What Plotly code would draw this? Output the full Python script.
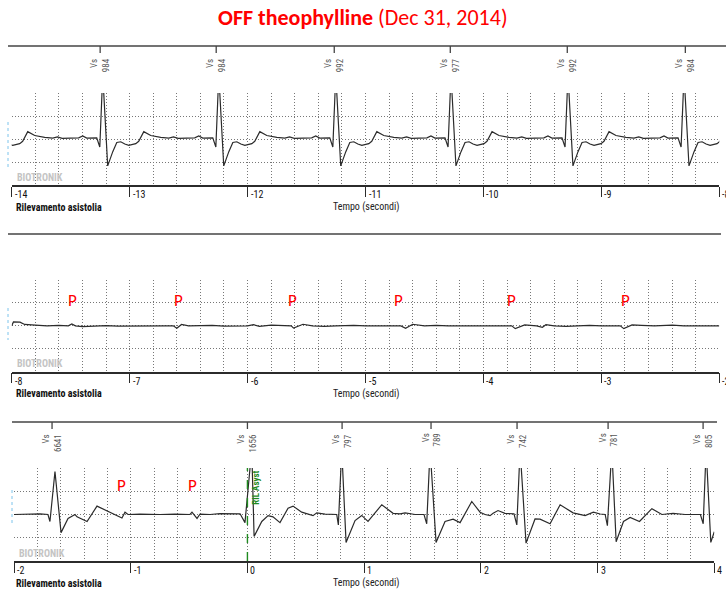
import plotly.graph_objects as go

W, H = 726, 592

# ---------------- text ----------------
title_bold = "OFF theophylline"
title_rest = "(Dec 31, 2014)"
brand = "BIOTRONIK"
strip_caption = "Rilevamento asistolia"
x_title = "Tempo (secondi)"
asyst_label = "RIL Asyst"

# ---------------- strip 1 : -14 .. -8 s ----------------
s1_ticks = [-14, -13, -12, -11, -10, -9, -8]
s1_beat_times = [-14.212, -13.228, -12.244, -11.252, -10.275, -9.283, -8.299]
s1_vs_times = [-13.25, -12.266, -11.265, -10.281, -9.289, -8.288]
s1_vs_labels = ["984", "984", "992", "977", "992", "984"]
s1_beat_offsets = [-0.204, -0.170, -0.136, -0.051, -0.025, 0.0, 0.042, 0.085, 0.119,
                   0.153, 0.187, 0.221, 0.280, 0.305, 0.348, 0.407, 0.492, 0.560,
                   0.600, 0.640, 0.700]
s1_beat_values = [0.05, 0.13, 0.04, 0.05, -0.35, 2.8, -1.17, -0.55, -0.15,
                  -0.12, -0.22, -0.28, -0.20, -0.10, 0.32, 0.15, 0.07, 0.04,
                  0.09, 0.03, 0.05]

# ---------------- strip 2 : -8 .. -2 s (asystole, P waves only) ----------------
s2_ticks = [-8, -7, -6, -5, -4, -3, -2]
s2_t = [-8.00, -7.985, -7.93, -7.89, -7.80, -7.70, -7.60, -7.52, -7.49, -7.46,
        -7.40, -7.30, -7.20, -7.10, -7.00, -6.90, -6.80, -6.70, -6.63, -6.60,
        -6.56, -6.50, -6.40, -6.30, -6.20, -6.10, -6.00, -5.95, -5.90, -5.80,
        -5.70, -5.63, -5.61, -5.53, -5.45, -5.35, -5.25, -5.10, -5.00, -4.90,
        -4.80, -4.70, -4.66, -4.60, -4.50, -4.40, -4.30, -4.20, -4.10, -4.00,
        -3.76, -3.73, -3.65, -3.55, -3.50, -3.47, -3.40, -3.30, -3.20, -3.10,
        -3.00, -2.84, -2.81, -2.74, -2.66, -2.55, -2.40, -2.30, -2.15, -2.00]
s2_v = [0.0, 0.17, 0.16, 0.06, 0.03, 0.0, 0.02, 0.0, 0.08, 0.0,
        -0.03, 0.0, 0.01, -0.01, 0.0, 0.01, 0.0, 0.0, 0.0, -0.10,
        0.06, 0.0, 0.01, 0.02, -0.01, 0.0, 0.0, 0.05, -0.02, 0.03,
        0.02, 0.0, -0.10, 0.07, 0.0, -0.02, 0.0, 0.02, 0.0, -0.01,
        0.0, 0.0, -0.11, 0.07, 0.0, 0.02, 0.0, 0.0, 0.0, 0.0,
        0.0, -0.12, 0.04, 0.0, -0.06, 0.05, 0.0, -0.02, 0.0, 0.02,
        0.0, 0.0, -0.12, 0.04, 0.02, 0.0, 0.03, 0.0, 0.0, 0.0]
s2_p_times = [-7.488, -6.589, -5.622, -4.722, -3.764, -2.797]
s2_p_level = 1.12

# ---------------- strip 3 : -2 .. 4 s (escape / resumption) ----------------
s3_ticks = [-2, -1, 0, 1, 2, 3, 4]
s3_t = [-2.00, -1.777, -1.709, -1.692, -1.649, -1.597, -1.537, -1.477, -1.46, -1.374,
        -1.289, -1.177, -1.075, -1.049, -1.023, -0.92, -0.749, -0.62, -0.492, -0.475,
        -0.432, -0.406, -0.32, -0.235, -0.149, -0.063, -0.021, 0.037, 0.057, 0.123,
        0.177, 0.219, 0.279, 0.348, 0.391, 0.465, 0.562, 0.594, 0.665, 0.765,
        0.779, 0.808, 0.845, 0.922, 0.979, 1.033, 1.151, 1.248, 1.308, 1.351,
        1.436, 1.513, 1.536, 1.565, 1.616, 1.693, 1.762, 1.822, 1.922, 1.993,
        2.036, 2.079, 2.105, 2.147, 2.207, 2.284, 2.308, 2.336, 2.387, 2.464,
        2.507, 2.593, 2.679, 2.79, 2.893, 2.964, 3.022, 3.065, 3.084, 3.122,
        3.159, 3.222, 3.279, 3.359, 3.465, 3.551, 3.647, 3.75, 3.881, 3.905,
        3.93, 3.97, 4.00]
s3_v = [0.0, 0.03, 0.0, -0.30, 1.85, -0.78, -0.17, 0.0, -0.10, -0.30,
        0.36, 0.10, -0.15, 0.10, 0.0, 0.02, 0.0, 0.02, 0.0, 0.10,
        -0.17, 0.02, 0.0, 0.04, 0.03, 0.03, -0.35, 2.8, -0.94, -0.30,
        -0.05, -0.10, -0.35, 0.27, 0.36, 0.10, -0.05, 0.07, 0.02, 0.0,
        -0.45, 2.8, -1.20, -0.26, -0.04, -0.30, 0.42, 0.05, 0.03, 0.07,
        0.0, 0.0, -0.40, 2.8, -1.20, -0.30, -0.20, -0.35, 0.56, 0.10,
        0.0, -0.05, 0.05, 0.17, 0.05, 0.03, -0.45, 2.8, -1.23, -0.19,
        -0.20, -0.40, 0.42, 0.07, -0.05, 0.10, 0.02, 0.0, -0.48, 2.8,
        -1.17, -0.30, -0.13, -0.30, 0.25, 0.0, 0.05, 0.0, 0.0, -0.40,
        2.8, -1.20, -0.74]
s3_vs_times = [-1.674, 0.0, 0.811, 1.573, 2.31, 3.09, 3.904]
s3_vs_labels = ["6641", "1656", "797", "789", "742", "781", "805"]
s3_p_times = [-1.077, -0.469]
s3_p_level = 1.26
s3_asyst_time = 0.0

# ---------------- build strip-1 series from its beats ----------------
s1_pairs = []
for b in s1_beat_times:
    for o, v in zip(s1_beat_offsets, s1_beat_values):
        s1_pairs.append((b + o, v))
s1_pairs.sort()
s1_t = [p[0] for p in s1_pairs]
s1_v = [p[1] for p in s1_pairs]

# ---------------- geometry (pixels) ----------------
NARROW = "Liberation Sans Narrow, Arial Narrow, Roboto Condensed, Liberation Sans, sans-serif"
CAL = "Carlito, Lato, Calibri, sans-serif"
GRID = "#777777"
DOTS = "1px,2px"
INK = "#2b2b2b"

strips = [
    dict(ax="", t=s1_t, v=s1_v, rng=[-14, -8], ticks=s1_ticks, xl=11.7, xr=719.3,
         yt=93, yb=185, top=46, topx=(8, 726), vs_t=s1_vs_times, vs_l=s1_vs_labels,
         blue=(8, 122, 167)),
    dict(ax="2", t=s2_t, v=s2_v, rng=[-8, -2], ticks=s2_ticks, xl=11.7, xr=719.3,
         yt=280, yb=371.7, top=234, topx=(8, 721), vs_t=[], vs_l=[],
         blue=(8, 308, 340)),
    dict(ax="3", t=s3_t, v=s3_v, rng=[-2, 4], ticks=s3_ticks, xl=14, xr=714.3,
         yt=468, yb=561, top=422, topx=(12, 717), vs_t=s3_vs_times, vs_l=s3_vs_labels,
         blue=(12, 490, 525)),
]


def py(p):
    return 1 - p / H


fig = go.Figure()
layout = dict(width=W, height=H, margin=dict(l=0, r=0, t=0, b=0),
              paper_bgcolor="white", plot_bgcolor="white", showlegend=False)
shapes, annotations = [], []

for s in strips:
    a = s["ax"]
    xname, yname = "x" + a, "y" + a
    fig.add_trace(go.Scatter(x=s["t"], y=s["v"], mode="lines", xaxis=xname, yaxis=yname,
                             line=dict(color=INK, width=1.2), hoverinfo="skip"))
    layout["xaxis" + a] = dict(
        domain=[s["xl"] / W, s["xr"] / W], range=s["rng"], anchor=yname,
        showline=True, linecolor=INK, linewidth=1.5,
        ticks="outside", ticklen=10, tickwidth=1.3, tickcolor=INK,
        tickmode="array", tickvals=s["ticks"], showticklabels=False,
        showgrid=True, gridcolor=GRID, griddash=DOTS, gridwidth=1,
        minor=dict(tickmode="linear", tick0=s["rng"][0], dtick=0.2, showgrid=True,
                   gridcolor=GRID, griddash=DOTS, gridwidth=1, ticks=""),
        zeroline=False, fixedrange=True)
    layout["yaxis" + a] = dict(
        domain=[py(s["yb"]), py(s["yt"])], range=[-2, 2], anchor=xname,
        tickmode="array", tickvals=[-1, 0, 1, 2], showticklabels=False, ticks="",
        showgrid=True, gridcolor=GRID, griddash=DOTS, gridwidth=1,
        showline=False, zeroline=False, fixedrange=True)
    # top event line
    shapes.append(dict(type="line", xref="paper", yref="paper",
                       x0=s["topx"][0] / W, x1=s["topx"][1] / W,
                       y0=py(s["top"]), y1=py(s["top"]),
                       line=dict(color="#444", width=1.5)))
    # marker ticks and labels
    for tv, lab in zip(s["vs_t"], s["vs_l"]):
        shapes.append(dict(type="line", xref=xname, yref="paper", x0=tv, x1=tv,
                           y0=py(s["top"]), y1=py(s["top"] + 7),
                           line=dict(color="#444", width=1.3)))
        annotations.append(dict(x=tv, y=py(s["top"] + 10), xref=xname, yref="paper",
                                text="Vs<br>" + lab, textangle=-90, showarrow=False,
                                xanchor="center", yanchor="top", align="right",
                                font=dict(family=NARROW, size=9, color="#555")))
    # light-blue marker at left edge
    bx, b0, b1 = s["blue"]
    shapes.append(dict(type="line", xref="paper", yref="paper", x0=bx / W, x1=bx / W,
                       y0=py(b0), y1=py(b1),
                       line=dict(color="#7cc4ec", width=1, dash="dot")))
    # axis tick labels (to the right of each tick)
    for tv in s["ticks"]:
        annotations.append(dict(x=tv, y=py(s["yb"] + 2), xref=xname, yref="paper",
                                text=str(tv), showarrow=False, xanchor="left",
                                yanchor="top", xshift=1,
                                font=dict(family=NARROW, size=10, color="#111")))
    # brand watermark
    annotations.append(dict(x=(s["xl"] + 3) / W, y=py(s["yb"] - 8), xref="paper",
                            yref="paper", text="<b>" + brand + "</b>", showarrow=False,
                            xanchor="left", yanchor="middle",
                            font=dict(family=NARROW, size=10, color="#c4c4c4")))
    # captions
    annotations.append(dict(x=14 / W, y=py(s["yb"] + 22), xref="paper", yref="paper",
                            text="<b>" + strip_caption + "</b>", showarrow=False,
                            xanchor="left", yanchor="middle",
                            font=dict(family=NARROW, size=10, color="#111")))
    annotations.append(dict(x=366 / W, y=py(s["yb"] + 22), xref="paper", yref="paper",
                            text=x_title, showarrow=False,
                            xanchor="center", yanchor="middle",
                            font=dict(family=NARROW, size=10, color="#222")))

# P-wave labels
for tv in s2_p_times:
    annotations.append(dict(x=tv, y=s2_p_level, xref="x2", yref="y2", text="P",
                            showarrow=False, font=dict(family=CAL, size=17, color="#ff0000")))
for tv in s3_p_times:
    annotations.append(dict(x=tv, y=s3_p_level, xref="x3", yref="y3", text="P",
                            showarrow=False, font=dict(family=CAL, size=17, color="#ff0000")))

# asystole detection marker
shapes.append(dict(type="line", xref="x3", yref="y3", x0=s3_asyst_time, x1=s3_asyst_time,
                   y0=-2, y1=2, line=dict(color="#1f8a1f", width=1.4, dash="dash")))
annotations.append(dict(x=s3_asyst_time, y=1.17, xref="x3", yref="y3",
                        text="<b>" + asyst_label + "</b>", textangle=-90, showarrow=False,
                        xanchor="left", yanchor="middle", xshift=2,
                        font=dict(family=NARROW, size=9, color="#1f8a1f")))

# title
annotations.append(dict(x=0.5, y=py(18), xref="paper", yref="paper",
                        text="<b>" + title_bold + "</b> " + title_rest, showarrow=False,
                        xanchor="center", yanchor="middle",
                        font=dict(family=CAL, size=22, color="#ff0000")))

layout["shapes"] = shapes
layout["annotations"] = annotations
fig.update_layout(**layout)
fig.write_html("out.html", config={"displayModeBar": False},
               post_script="document.body.style.margin='0';document.body.style.padding='0';")
